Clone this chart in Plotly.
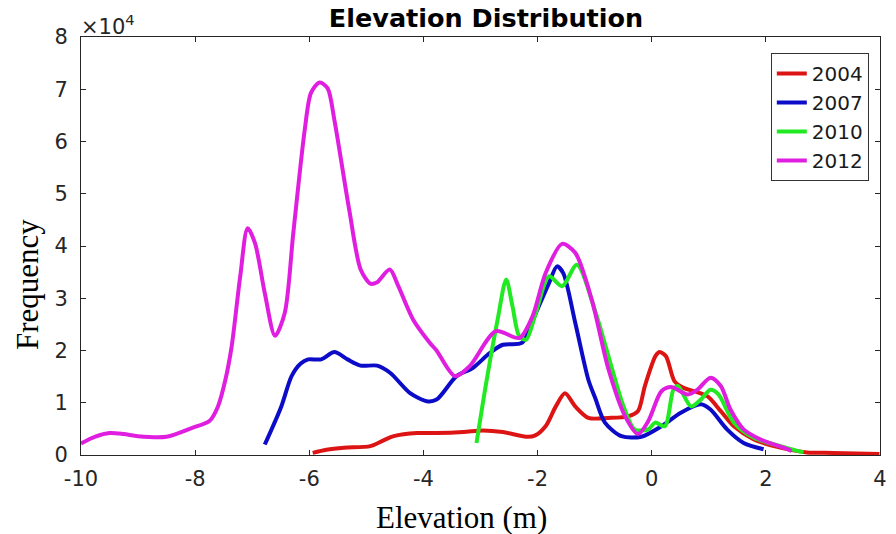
import plotly.graph_objects as go

# ---- data (elevation in m, frequency counts) ----
x_2004 = [-5.94, -5.7, -5.39, -4.93, -4.70, -4.52, -4.11, -3.77, -3.3, -2.96, -2.61, -2.2, -2.05, -1.86, -1.68, -1.52,
          -1.34, -1.11, -0.76, -0.41, -0.24, -0.12, 0.07, 0.14, 0.25, 0.40, 0.57, 0.75, 0.98, 1.21, 1.44, 1.79,
          2.25, 2.72, 3.18, 3.99]
y_2004 = [400, 1000, 1400, 1700, 2800, 3600, 4200, 4200, 4400, 4700, 4400, 3500, 3700, 5500, 9300, 11800,
          9300, 7100, 7100, 7400, 8400, 13200, 19000, 19700, 18900, 14100, 12800, 12200, 11200, 8400, 5500, 3000,
          1400, 500, 400, 200]

x_2007 = [-6.78, -6.49, -6.31, -6.15, -6.02, -5.79, -5.56, -5.33, -5.10, -4.81, -4.58, -4.24, -3.94, -3.77, -3.42,
          -3.13, -2.84, -2.61, -2.27, -2.03, -1.80, -1.66, -1.55, -1.34, -1.11, -0.99, -0.82, -0.53, -0.18, 0.17,
          0.51, 0.86, 1.03, 1.32, 1.61, 1.96]
y_2007 = [2000, 9300, 15100, 17500, 18300, 18300, 19700, 18300, 17100, 17100, 15700, 11900, 10300, 10600, 15100,
          16700, 19500, 21100, 21500, 27200, 32900, 36100, 34800, 25300, 14400, 10900, 6200, 3600, 3500, 5500,
          8100, 9700, 8700, 4900, 2300, 1100]

x_2010 = [-3.07, -2.90, -2.70, -2.55, -2.44, -2.32, -2.20, -2.03, -1.80, -1.57, -1.31, -0.99, -0.70, -0.50, -0.30,
          -0.06, 0.06, 0.23, 0.38, 0.46, 0.69, 0.86, 1.03, 1.17, 1.44, 1.79, 2.25, 2.66]
y_2010 = [2300, 13800, 25900, 33600, 28500, 22700, 22100, 27200, 34200, 32300, 36400, 27500, 16700, 9500, 4900,
          4900, 6200, 5500, 12500, 13200, 9300, 10600, 12500, 11600, 6200, 3300, 1700, 500]

x_2012 = [-10.0, -9.75, -9.5, -9.25, -9.0, -8.5, -8.05, -7.75, -7.6, -7.47, -7.36, -7.21, -7.08, -6.95, -6.78,
          -6.60, -6.43, -6.28, -6.08, -5.97, -5.82, -5.68, -5.56, -5.30, -5.10, -4.93, -4.82, -4.59, -4.44, -4.18,
          -3.89, -3.77, -3.45, -3.19, -2.73, -2.32, -2.09, -1.86, -1.57, -1.34, -1.05, -0.76, -0.47, -0.24, -0.06,
          0.17, 0.34, 0.63, 0.80, 1.03, 1.21, 1.38, 1.61, 1.90, 2.31, 2.45]
y_2012 = [2200, 3500, 4200, 4000, 3600, 3500, 5200, 6500, 9300, 14400, 20800, 34200, 43400, 40500, 31000,
          22800, 27200, 42500, 62200, 69300, 71300, 70200, 64100, 46900, 35500, 32800, 33000, 35500, 32300, 25900,
          21500, 20000, 15100, 17000, 23700, 22400, 26500, 34800, 40400, 38700, 29700, 16500, 7500, 4000, 6500,
          12200, 13000, 11600, 12500, 14800, 13200, 8700, 4900, 3000, 1400, 800]

years = ["2004", "2007", "2010", "2012"]
colors = ["#dd1414", "#0c0cc8", "#22ea22", "#e01ee0"]
xs = [x_2004, x_2007, x_2010, x_2012]
ys = [y_2004, y_2007, y_2010, y_2012]

x_ticks = [-10, -8, -6, -4, -2, 0, 2, 4]
x_ticktext = ["-10", "-8", "-6", "-4", "-2", "0", "2", "4"]
y_ticks = [0, 10000, 20000, 30000, 40000, 50000, 60000, 70000, 80000]
y_ticktext = ["0", "1", "2", "3", "4", "5", "6", "7", "8"]

fig = go.Figure()
for name, c, xv, yv in zip(years, colors, xs, ys):
    fig.add_trace(go.Scatter(x=xv, y=yv, mode="lines", name=name,
                             line=dict(color=c, width=4, shape="spline", smoothing=0.8)))

axis_common = dict(showgrid=False, zeroline=False, showline=True, linecolor="#262626", linewidth=1,
                   mirror="ticks", ticks="inside", ticklen=5, tickcolor="#262626",
                   tickfont=dict(family="DejaVu Sans", size=21, color="#262626"))

fig.update_layout(
    width=896, height=534,
    margin=dict(l=81, r=9, t=37, b=79),
    plot_bgcolor="white", paper_bgcolor="white",
    showlegend=True,
    legend=dict(x=0.986, y=0.962, xanchor="right", yanchor="top",
                bgcolor="white", bordercolor="#333333", borderwidth=1,
                font=dict(family="DejaVu Sans", size=20, color="#1a1a1a"),
                itemwidth=30, tracegroupgap=0),
    title=dict(text="<b>Elevation Distribution</b>", x=486 / 896, xanchor="center",
               y=1 - 18 / 534, yanchor="middle",
               font=dict(family="DejaVu Sans", size=25.5, color="#000000")),
)
fig.update_xaxes(range=[-10, 4], tickvals=x_ticks, ticktext=x_ticktext, ticklabelstandoff=5, **axis_common)
fig.update_yaxes(range=[0, 80000], tickvals=y_ticks, ticktext=y_ticktext, ticklabelstandoff=8, **axis_common)

fig.add_annotation(text="×10<sup>4</sup>", xref="paper", yref="paper", x=0, y=1,
                   xanchor="left", yanchor="bottom", showarrow=False, xshift=-2, yshift=-4,
                   font=dict(family="DejaVu Sans", size=21, color="#262626"))
fig.add_annotation(text="Elevation (m)", xref="paper", yref="paper", x=(465 - 81) / 806, y=0,
                   xanchor="center", yanchor="top", showarrow=False, yshift=-43,
                   font=dict(family="Liberation Serif", size=31, color="#000000"))
fig.add_annotation(text="Frequency", xref="paper", yref="paper", x=0, y=1 - (285 - 37) / 418,
                   xanchor="center", yanchor="middle", showarrow=False, textangle=-90, xshift=-54,
                   font=dict(family="Liberation Serif", size=31, color="#000000"))

fig.write_html("out.html")
